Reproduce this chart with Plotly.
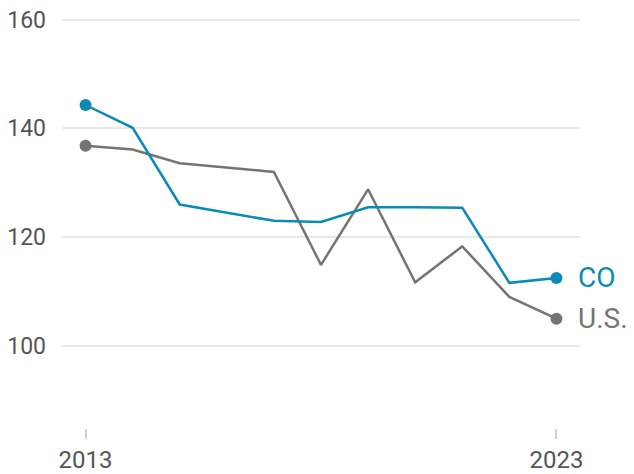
import plotly.graph_objects as go

years = [2013, 2014, 2015, 2017, 2018, 2019, 2020, 2021, 2022, 2023]
co_values = [144.3, 140.1, 126.0, 123.0, 122.8, 125.5, 125.5, 125.4, 111.6, 112.5]
us_values = [136.8, 136.1, 133.6, 132.0, 114.9, 128.8, 111.7, 118.3, 109.0, 105.0]
y_ticks = [100, 120, 140, 160]
x_ticks = [2013, 2023]

CO_COLOR = "#0a8ab5"
US_COLOR = "#747474"
FONT = "Roboto"

fig = go.Figure()
for vals, color, name in [(us_values, US_COLOR, "U.S."), (co_values, CO_COLOR, "CO")]:
    fig.add_trace(go.Scatter(
        x=years, y=vals, mode="lines", name=name,
        line=dict(color=color, width=2.5),
        showlegend=False, hoverinfo="skip",
    ))
    fig.add_trace(go.Scatter(
        x=[years[0], years[-1]], y=[vals[0], vals[-1]], mode="markers",
        marker=dict(color=color, size=12, opacity=1, line=dict(width=0)),
        showlegend=False, hoverinfo="skip",
    ))
    fig.add_annotation(
        x=years[-1], y=vals[-1], text=name, showarrow=False,
        xanchor="left", xshift=20, yanchor="middle",
        font=dict(family=FONT, size=28, color=color),
    )

fig.update_layout(
    width=626, height=466,
    margin=dict(l=54, r=54, t=10, b=46),
    paper_bgcolor="white", plot_bgcolor="white",
    font=dict(family=FONT, size=23, color="#555555"),
    xaxis=dict(
        range=[2012.5, 2023.5], tickvals=x_ticks, ticktext=[str(v) for v in x_ticks],
        showgrid=False, zeroline=False, showline=False, automargin=False,
        ticks="outside", ticklen=10, tickwidth=2, tickcolor="#d0d0d0",
        ticklabeloverflow="allow",
        tickfont=dict(family=FONT, size=24, color="#555555"),
    ),
    yaxis=dict(
        range=[84.9, 160.3], tickvals=y_ticks,
        showgrid=True, gridcolor="#e8e8e8", gridwidth=2,
        zeroline=False, showline=False, ticks="", automargin=False,
        ticklabelstandoff=15, ticklabeloverflow="allow",
        tickfont=dict(family=FONT, size=23, color="#555555"),
    ),
)

fig.write_html("out.html")
